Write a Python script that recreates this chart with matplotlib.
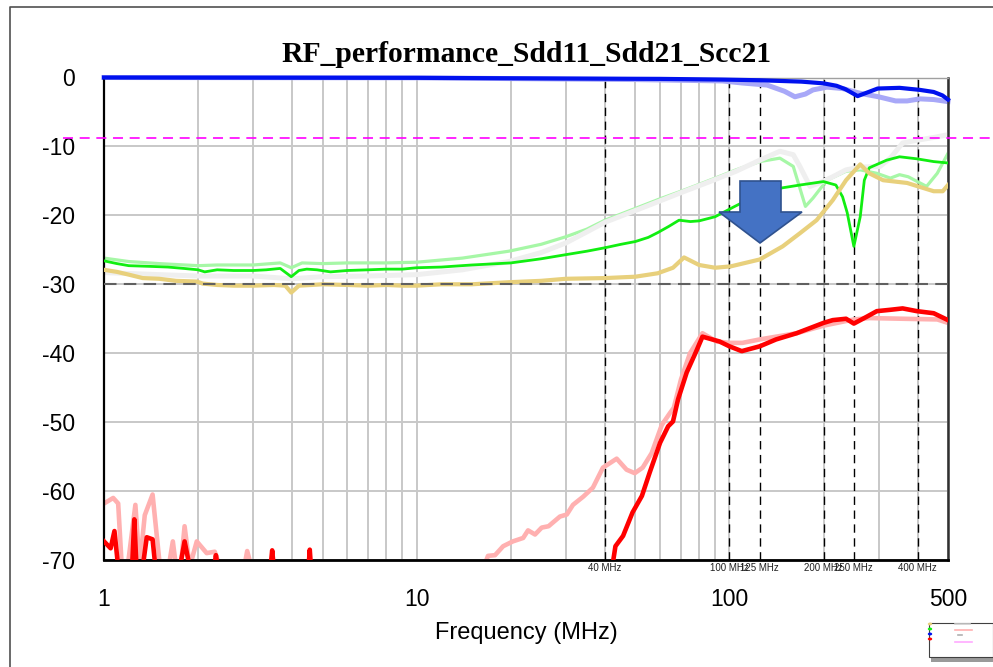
import numpy as np
import matplotlib
matplotlib.use("Agg")
import matplotlib.pyplot as plt
from matplotlib.patches import Polygon, Rectangle, Circle
from matplotlib.lines import Line2D

plt.rcParams['axes.unicode_minus'] = False
plt.rcParams['font.family'] = ['Liberation Sans', 'DejaVu Sans']

# ---- measured traces (frequency in MHz, level in dB) ----
f_sdd21 = [1, 10, 30, 60, 95, 125, 170, 200, 220, 235, 257, 275, 298, 350, 407, 450, 480, 500]
db_sdd21 = [0, -0.05, -0.15, -0.2, -0.3, -0.4, -0.6, -0.85, -1.2, -1.7, -2.7, -2.2, -1.6, -1.5, -1.8, -2.1, -2.6, -3.2]

f_sdd21_ref = [1, 10, 50, 95, 110, 132, 150, 162, 175, 185, 205, 230, 262, 300, 340, 370, 407, 450, 500]
db_sdd21_ref = [0, -0.05, -0.3, -0.5, -0.8, -1.1, -2.0, -2.8, -2.4, -1.8, -1.4, -1.6, -2.3, -2.8, -3.4, -3.4, -3.1, -3.2, -3.5]

f_sdd11 = [1, 1.1, 1.2, 1.4, 1.6, 1.8, 2.0, 2.1, 2.3, 2.6, 3.0, 3.3, 3.66, 3.97, 4.2, 4.45, 4.8, 5.3, 6, 7, 8, 9,
           10, 12, 15, 20, 25, 30, 35, 40, 45, 50, 55, 59, 64, 69, 75, 80, 90, 103, 115, 125, 148, 168, 200,
           219, 230, 238, 250, 262, 270, 280, 318, 350, 398, 450, 500]
db_sdd11 = [-26.6, -27.0, -27.3, -27.4, -27.5, -27.7, -27.9, -28.2, -27.9, -28.0, -28.0, -27.9, -27.7, -28.9, -28.0,
            -27.8, -27.9, -28.2, -28.0, -27.9, -27.8, -27.8, -27.6, -27.5, -27.2, -26.9, -26.3, -25.7, -25.2, -24.7,
            -24.2, -23.8, -23.2, -22.5, -21.6, -20.7, -20.9, -20.8, -20.2, -18.8, -17.7, -16.7, -16.0, -15.6, -15.1,
            -15.6, -17.3, -19.6, -24.5, -20.2, -14.9, -13.1, -12.0, -11.5, -11.8, -12.2, -12.4]

f_sdd11_ref = [1, 1.2, 1.5, 2.0, 2.3, 3.0, 3.66, 3.97, 4.3, 5, 6, 8, 10, 14, 19.7, 25, 30, 35, 40, 50, 60, 70, 80,
               90, 105, 125, 145, 160, 175, 185, 205, 236, 262, 296, 327, 350, 373, 427, 462, 500]
db_sdd11_ref = [-26.2, -26.7, -27.0, -27.3, -27.2, -27.2, -26.9, -27.6, -26.9, -27.0, -26.9, -26.9, -26.8, -26.2,
                -25.2, -24.2, -23.1, -22.0, -20.7, -19.0, -17.6, -16.5, -15.5, -14.6, -13.4, -12.2, -11.7, -12.9,
                -18.7, -17.5, -14.9, -13.6, -13.4, -13.9, -14.6, -14.1, -14.4, -15.8, -13.9, -11.0]

f_sdd22_ref = [1, 1.5, 2, 3, 3.97, 5, 7, 10, 14, 19.7, 25, 30, 35, 40, 50, 60, 70, 80, 90, 105, 125, 145, 160,
               168, 181, 194, 214, 236, 262, 303, 327, 358, 398, 450, 500]
db_sdd22_ref = [-28.3, -28.6, -28.8, -28.8, -29.2, -28.9, -28.8, -28.6, -27.9, -26.7, -25.4, -24.0, -22.4, -21.0,
                -19.3, -17.9, -16.7, -15.7, -14.8, -13.6, -12.0, -10.7, -11.2, -12.9, -15.8, -15.3, -14.4, -13.4,
                -13.0, -12.9, -11.7, -9.5, -9.1, -8.7, -8.3]

f_sdd22 = [1, 1.1, 1.2, 1.33, 1.5, 1.7, 1.98, 2.07, 2.3, 2.6, 3.0, 3.5, 3.8, 3.97, 4.2, 4.6, 5, 6, 7, 8, 9, 10, 12,
           15, 19.7, 25, 30, 40, 50, 59, 66, 71.6, 80, 90, 101, 125, 148, 168, 190, 214, 236, 262, 280, 310, 370,
           450, 481, 500]
db_sdd22 = [-27.9, -28.2, -28.6, -29.1, -29.2, -29.5, -29.6, -29.9, -30.1, -30.2, -30.2, -30.1, -30.2, -31.2, -30.2,
            -30.1, -30.0, -30.1, -30.2, -30.1, -30.2, -30.2, -30.0, -30.0, -29.7, -29.5, -29.2, -29.1, -28.9, -28.4,
            -27.6, -26.1, -27.2, -27.6, -27.4, -26.4, -24.5, -22.6, -20.7, -17.8, -14.9, -12.6, -13.9, -14.9, -15.3,
            -16.5, -16.5, -15.6]

f_scc21 = [1.0, 1.05, 1.08, 1.11, 1.23, 1.25, 1.27, 1.33, 1.37, 1.43, 1.46, 1.75, 1.81, 1.88, 2.25, 2.28, 2.31,
           3.41, 3.45, 3.49, 4.51, 4.55, 4.59, 20, 42.2, 43.2, 45.7, 49, 52.5, 55.6, 60, 63.7, 66, 68.5, 73, 78.7,
           82, 93, 100, 109.5, 125, 141, 164, 200, 214, 236, 250, 275, 296, 327, 358, 398, 450, 500]
db_scc21 = [-67.3, -68.3, -65.8, -71, -71, -64.1, -71, -71, -66.7, -67.0, -71, -71, -67.3, -71, -71, -69.3, -71,
            -71, -68.6, -71, -71, -68.5, -71, -71, -71, -68, -66.5, -63.1, -60.7, -57.3, -53, -50.6, -49.9, -46.7,
            -42.8, -39.5, -37.6, -38.3, -39.0, -39.7, -39.0, -38.0, -37.1, -35.6, -35.2, -35.0, -35.7, -34.7, -33.9,
            -33.7, -33.5, -33.9, -34.2, -35.2]

f_scc21_ref = [1.0, 1.07, 1.11, 1.14, 1.19, 1.26, 1.30, 1.35, 1.43, 1.51, 1.61, 1.66, 1.70, 1.76, 1.81, 1.88,
               1.98, 2.13, 2.26, 2.35, 2.81, 2.87, 2.96, 16.4, 16.9, 17.8, 18.9, 20.3, 21.9, 22.7, 23.9, 25.1, 26.4,
               28.7, 30.2, 31.6, 34.1, 36.6, 39.4, 43.6, 46.9, 49.8, 52.8, 56.4, 60.8, 64.5, 66.4, 70, 74.8, 82, 91,
               100, 110, 125, 141, 164, 200, 250, 280, 358, 462, 500]
db_scc21_ref = [-61.8, -61.0, -61.8, -71, -71, -62.0, -71, -63.5, -60.5, -71, -71, -67.3, -71, -71, -65.1, -71,
                -67.3, -69.0, -68.8, -71, -71, -68.7, -71, -71, -69.4, -69.3, -68, -67.3, -66.8, -65.7, -66.3, -65.3,
                -65.1, -63.7, -63.4, -62, -60.8, -59.5, -56.6, -55.3, -56.9, -57.4, -56.6, -54.5, -50.4, -48.7,
                -47.9, -43.8, -40.0, -37.1, -38.3, -38.5, -38.5, -38.0, -37.6, -37.1, -36.0, -35.1, -34.9, -35.0,
                -35.1, -35.6]

# limits and markers
limit_dd11 = -8.8
limit_cc = -30
marker_freqs = [40, 100, 125, 200, 250, 400]
marker_labels = ["40 MHz", "100 MHz", "125 MHz", "200 MHz", "250 MHz", "400 MHz"]
x_major = [1, 10, 100, 500]
x_major_labels = ["1", "10", "100", "500"]
y_ticks = [0, -10, -20, -30, -40, -50, -60, -70]

W, H = 993, 667
fig = plt.figure(figsize=(W / 100, H / 100), dpi=100)
L, R, T, B = 104, 948, 77.5, 560
ax = fig.add_axes([L / W, (H - B) / H, (R - L) / W, (B - T) / H])

ax.set_xscale('log')
ax.set_xlim(1, 500)
ax.set_ylim(-70, 0)

minor = [m * d for d in (1, 10, 100) for m in range(2, 10) if m * d < 500]
ax.xaxis.set_major_locator(matplotlib.ticker.FixedLocator(x_major))
ax.xaxis.set_major_formatter(matplotlib.ticker.FixedFormatter(x_major_labels))
ax.xaxis.set_minor_locator(matplotlib.ticker.FixedLocator(minor))
ax.xaxis.set_minor_formatter(matplotlib.ticker.NullFormatter())
ax.set_yticks(y_ticks)
ax.set_yticklabels([str(v) for v in y_ticks])
ax.tick_params(axis='both', which='both', length=0)
ax.tick_params(axis='y', pad=21, labelsize=16.5)
ax.tick_params(axis='x', pad=20, labelsize=16.5)
ax.grid(True, which='both', color='#c8c8c8', lw=1.4, zorder=0)
ax.set_axisbelow(True)

for side, col, lw in (('left', 'black', 1.6), ('bottom', 'black', 2.0),
                      ('right', '#303030', 1.8), ('top', '#a0a0a0', 1.0)):
    ax.spines[side].set_color(col)
    ax.spines[side].set_linewidth(lw)

ax.set_xlabel("Frequency (MHz)", fontsize=17, labelpad=8)
ax.set_title("RF_performance_Sdd11_Sdd21_Scc21", family=['Liberation Serif', 'DejaVu Serif'],
             fontweight='bold', fontsize=21.3, pad=11)

# marker lines
for fm, lab in zip(marker_freqs, marker_labels):
    ax.axvline(fm, color='black', lw=1.0, ls=(0, (6, 4)), zorder=1.5)
    ax.text(fm, -70.5, lab, ha='center', va='top', fontsize=7, color='#202020', clip_on=False)

# traces
ax.plot(f_sdd11_ref, db_sdd11_ref, color='#a6f7a6', lw=2.3, zorder=2)
ax.plot(f_sdd22_ref, db_sdd22_ref, color='#efefef', lw=3.6, zorder=2.2)
ax.plot(f_sdd11, db_sdd11, color='#11ee11', lw=2.0, zorder=3)
ax.plot(f_sdd22, db_sdd22, color='#e8d07c', lw=3.0, zorder=3)
ax.plot(f_scc21_ref, db_scc21_ref, color='#ffb0b0', lw=3.3, zorder=2)
ax.plot(f_scc21, db_scc21, color='#ff0000', lw=3.3, zorder=3)
ax.plot(f_sdd21_ref, db_sdd21_ref, color='#a8a8f8', lw=3.6, zorder=2, clip_on=False)
ax.plot(f_sdd21, db_sdd21, color='#0011ee', lw=3.0, zorder=3, clip_on=False)

# limit lines
ax.plot([-0.049, 1.06], [limit_dd11, limit_dd11], transform=ax.get_yaxis_transform(),
        color='#ff00ff', lw=1.2, ls=(0, (6, 4)), clip_on=False, zorder=4)
ax.axhline(limit_cc, color='#606060', lw=1.5, ls=(0, (6, 3.5)), zorder=4)

# down arrow
arrow_px = [(740, 181), (781, 181), (781, 212), (802, 212), (760, 243), (719, 212), (740, 212)]
arrow_ax = [((x - L) / (R - L), (B - y) / (B - T)) for x, y in arrow_px]
ax.add_patch(Polygon(arrow_ax, closed=True, transform=ax.transAxes, facecolor='#4472c4',
                     edgecolor='#2f528f', lw=1.2, zorder=6))


def fx(px):
    return px / W


def fy(py):
    return (H - py) / H


# outer frame
fig.add_artist(Line2D([fx(9.5), fx(9.5), fx(993)], [fy(667), fy(6.5), fy(6.5)],
                      transform=fig.transFigure, color='#505050', lw=1.2))

# legend thumbnail
fig.add_artist(Rectangle((fx(931), fy(662)), fx(993) - fx(931), fy(657) - fy(662),
                         transform=fig.transFigure, facecolor='#9a9a9a', edgecolor='none'))
fig.add_artist(Rectangle((fx(929), fy(657)), fx(993) - fx(929), fy(623) - fy(657),
                         transform=fig.transFigure, facecolor='white', edgecolor='#404040', lw=0.8))
for yy, cc in ((624, '#e8d07c'), (629, '#11ee11'), (634, '#0011ee'), (639, '#ff0000')):
    fig.add_artist(Circle((fx(930), fy(yy)), 2.2 / W, transform=fig.transFigure,
                          facecolor=cc, edgecolor='none'))
for (x0, x1, yy, cc) in ((955, 970, 624, '#d0d0d0'), (955, 972, 630, '#ffb0b0'),
                         (958, 962, 635, '#b0b0b0'), (955, 972, 642, '#ffaaff')):
    fig.add_artist(Line2D([fx(x0), fx(x1)], [fy(yy), fy(yy)], transform=fig.transFigure,
                          color=cc, lw=1.2))

fig.savefig("out.png", dpi=100)
